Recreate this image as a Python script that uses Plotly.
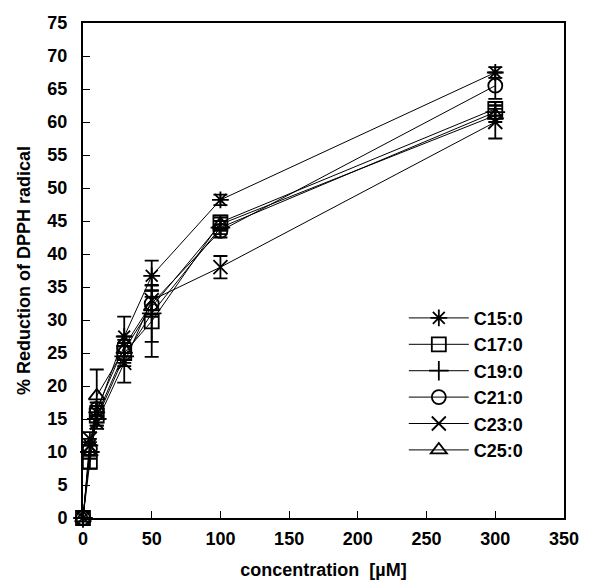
import plotly.graph_objects as go

concentration = [0, 5, 10, 30, 50, 100, 300]
names = ["C15:0", "C17:0", "C19:0", "C21:0", "C23:0", "C25:0"]
c15 = [0, 11.0, 16.0, 27.5, 36.7, 48.2, 67.5]
c17 = [0, 8.5, 15.5, 25.0, 29.8, 44.8, 62.0]
c19 = [0, 10.0, 15.0, 24.5, 31.0, 44.0, 61.5]
c21 = [0, 10.5, 16.5, 26.0, 32.5, 43.5, 65.5]
c23 = [-0.5, 12.0, 14.5, 23.5, 33.0, 38.0, 60.0]
c25 = [0, 10.0, 18.5, 25.5, 32.0, 44.5, 61.0]
e15 = [0, 1.0, 1.0, 3.0, 2.3, 0.8, 0.8]
e17 = [0, 1.0, 1.5, 1.5, 5.4, 1.0, 1.0]
e19 = [0, 1.0, 1.0, 1.5, 4.3, 1.0, 1.0]
e21 = [0, 1.0, 1.0, 1.5, 2.0, 1.0, 2.0]
e23 = [0, 1.0, 1.0, 3.0, 1.5, 1.7, 2.5]
e25 = [0, 1.0, 4.0, 1.5, 1.5, 1.0, 1.0]

series = [c15, c17, c19, c21, c23, c25]
errors = [e15, e17, e19, e21, e23, e25]
symbols = ["asterisk-open", "square-open", "cross-thin-open", "circle-open", "x-thin-open", "triangle-up-open"]

FONT = "Liberation Sans, Arial, sans-serif"
fig = go.Figure()
for n, y, e, s in zip(names, series, errors, symbols):
    fig.add_trace(go.Scatter(
        x=concentration, y=y, name=n, mode="lines+markers",
        line=dict(color="black", width=1),
        marker=dict(symbol=s, size=14, color="black", line=dict(color="black", width=1.8)),
        error_y=dict(type="data", array=e, visible=True, color="black", thickness=1.8, width=7),
        cliponaxis=False,
    ))

axis_common = dict(showgrid=False, zeroline=False, automargin=False,
                   showline=True, linecolor="black", linewidth=2, mirror=True,
                   ticks="inside", ticklen=7, tickcolor="black", tickwidth=1.2,
                   tickfont=dict(family=FONT, size=18, weight="bold"))

fig.update_layout(
    width=603, height=575,
    margin=dict(l=75, r=47, t=15, b=65),
    paper_bgcolor="white", plot_bgcolor="white",
    font=dict(family=FONT, size=18, color="black"),
    showlegend=True,
    legend=dict(x=0.667, y=0.441, xanchor="left", yanchor="top",
                bgcolor="rgba(0,0,0,0)", itemwidth=60,
                font=dict(family=FONT, size=18, color="black", weight="bold"),
                tracegroupgap=0),
    xaxis=dict(range=[0, 350], dtick=50, tick0=0, ticklabelstandoff=3,
               title=dict(text="concentration  [µM]", font=dict(family=FONT, size=18, weight="bold"), standoff=16),
               **axis_common),
    yaxis=dict(range=[0, 75], dtick=5, tick0=0, ticklabelstandoff=10,
               title=dict(text="% Reduction of DPPH radical", font=dict(family=FONT, size=18, weight="bold"), standoff=12),
               **axis_common),
)
fig.write_html("out.html")
